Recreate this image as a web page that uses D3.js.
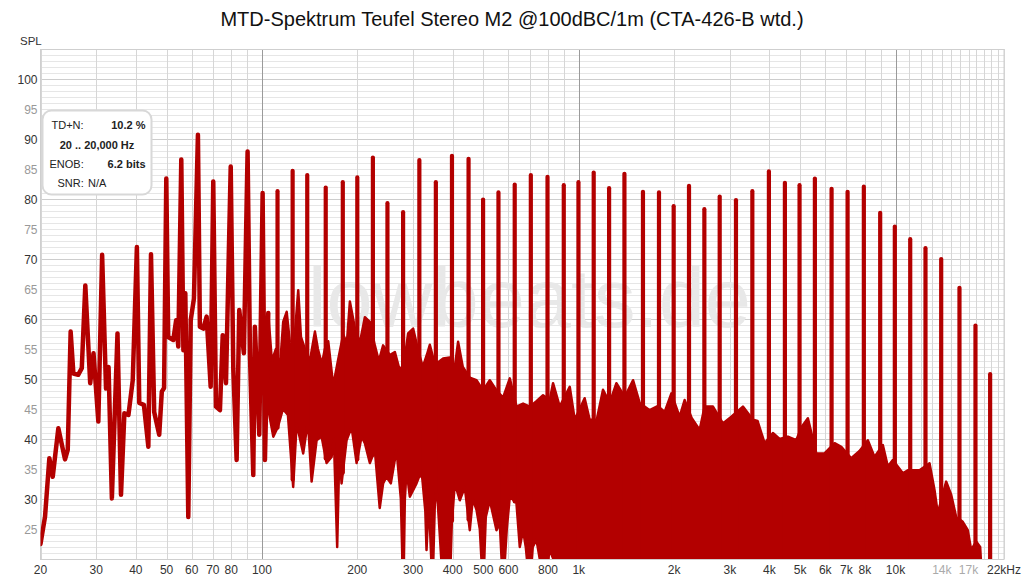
<!DOCTYPE html>
<html><head><meta charset="utf-8">
<script src="https://cdn.jsdelivr.net/npm/d3@7"></script>
<style>
html,body{margin:0;padding:0;background:#fff;}
svg{display:block;font-family:"Liberation Sans",Arial,Helvetica,sans-serif;}
</style></head><body>
<svg id="chart" width="1024" height="580"></svg>
<script>
// ---------- data ----------
const chartTitle = "MTD-Spektrum Teufel Stereo M2 @100dBC/1m (CTA-426-B wtd.)";
const yAxisTitle = "SPL";
const watermark = "lowbeats.de";

// low-frequency trace (Hz, dB SPL)
const traceHz = [20.0, 20.67, 21.33, 21.86, 22.77, 23.9, 24.38, 24.9, 25.4, 26.3, 27.0, 27.7, 28.7, 29.4, 30.45, 31.3, 32.2, 32.8, 33.6, 35.0, 35.9, 36.8, 37.9, 39.1, 40.3, 41.0, 42.4, 43.8, 44.65, 45.7, 47.4, 48.3, 49.1, 49.9, 50.6, 52.5, 53.6, 54.45, 55.65, 56.5, 57.3, 58.55, 59.6, 61.0, 62.8, 63.7, 65.3, 66.9, 68.9, 70.2, 71.6, 73.7, 75.2, 77.0, 79.7, 81.2, 83.2, 84.8, 87.7, 90.1, 91.7, 93.9, 95.0, 98.1, 100.5, 102.2, 104.7];
const traceDb = [22.5, 27.05, 36.8, 33.7, 41.8, 36.6, 38.2, 57.9, 50.9, 50.7, 51.8, 65.6, 49.3, 54.3, 42.9, 70.7, 48.4, 52, 30.1, 57.6, 30.7, 44.3, 44, 49.8, 72, 46, 45.7, 38.7, 70.8, 44.5, 40.7, 47.9, 48.5, 83.4, 57, 56.5, 59.8, 55.4, 86.6, 54.8, 64.3, 27, 59.8, 63.4, 90.7, 58.7, 58.4, 60.4, 48.7, 82.9, 45.4, 44.8, 57.3, 49.3, 85.4, 51.8, 36.5, 61.5, 54.3, 87.9, 53.7, 34, 58.7, 40.7, 81, 36.5, 61];

// multitone lines above 100 Hz (Hz, peak dB)
const toneHz = [112, 125, 139, 159, 180, 200, 224, 249, 279, 314, 354, 398, 449, 499, 558, 628, 706, 797, 897, 998, 1115, 1247, 1394, 1595, 1792, 1994, 2229, 2492, 2786, 3136, 3532, 3984, 4475, 4978, 5565, 6283, 7058, 7943, 8945, 9949, 11127, 12434, 13937, 15917, 17880, 19890];
const toneDb = [81.3, 84.7, 84.0, 81.9, 82.8, 83.6, 86.9, 79.3, 77.8, 86.5, 82.8, 87.2, 86.7, 79.9, 81.1, 82.4, 84.0, 83.7, 82.3, 82.8, 84.4, 81.8, 84.2, 81.2, 81.1, 78.8, 82.2, 78.3, 80.4, 79.8, 81.3, 84.6, 82.7, 82.3, 83.4, 81.7, 81.2, 82.05, 77.7, 75.4, 73.3, 71.8, 70.0, 65.2, 58.9, 50.8];

// distortion + noise band: upper edge
const noiseTopHz = [104.7, 107.5, 110.7, 114.0, 116.7, 119.7, 122.6, 125.5, 130.2, 132.8, 136.7, 141.7, 147.0, 150.2, 154.6, 158.0, 161.9, 167.9, 173.7, 180.5, 185.4, 189.5, 196.5, 203.7, 211.3, 219.1, 227.2, 233.9, 241.3, 253.4, 262.8, 270.5, 279.1, 289.4, 300.1, 310.6, 322.0, 331.5, 338.8, 351.3, 364.3, 373.2, 391.8, 406.3, 416.1, 430.6, 453.0, 475.7, 499.0, 523.9, 550.1, 577.0, 605.9, 636.0, 667.3, 700.6, 735.6, 771.7, 810.0, 829.7, 871.1, 936.7, 971.4, 1044, 1083, 1140, 1193, 1253, 1315, 1397, 1484, 1558, 1675, 1775, 1868, 1961, 2082, 2159, 2272, 2408, 2497, 2653, 2852, 3032, 3298, 3547, 3670, 3861, 4101, 4306, 4573, 4861, 5052, 5289, 5621, 5971, 6421, 6741, 7249, 7699, 8177, 8585, 9119, 9456, 9806, 10545, 10934, 11905, 12801, 13275, 13596, 13968, 14452, 14987, 15541, 16304, 16908, 17329, 17971, 18500, 18676];
const noiseTopDb = [61, 53, 55, 52, 59.5, 61.2, 56, 54, 64.8, 57, 55, 53, 57.9, 55, 52.5, 55, 56.3, 48.9, 53, 57.4, 56, 62.9, 58.5, 56, 60.3, 59.5, 55.6, 53, 55.6, 54, 54.5, 52, 51.6, 57.6, 58.4, 55, 52, 54, 55.7, 52.5, 53, 53.4, 53.6, 52, 56.2, 52, 50.2, 49.8, 48.1, 49.8, 48.1, 46.9, 50.1, 45.4, 45.9, 45.4, 46.3, 47.3, 46.5, 49.3, 45.4, 48.7, 43.2, 46.8, 43.2, 43.2, 48.2, 46, 49.3, 47, 49.8, 46, 44.8, 45.5, 44.5, 47.6, 43.7, 46.5, 43.5, 41.5, 45.4, 45.4, 42.6, 43.7, 45.4, 43.2, 43, 39.3, 41, 40, 40.4, 39.8, 42, 43.45, 37.6, 37.6, 39.3, 38.7, 36.8, 38, 39.8, 37, 39, 35.4, 36.5, 34.3, 34.8, 34.8, 35.95, 31.5, 27.6, 30, 32.9, 30.7, 27, 26.2, 24.8, 21.5, 22.9, 22, 18];

// distortion + noise band: lower edge (values under 20 run below the plot)
const noiseBotHz = [104.7, 108.6, 112.3, 116.5, 120.8, 125.5, 128.7, 135.0, 139.7, 143.5, 148.8, 154.3, 160.0, 165.9, 168.7, 172.8, 175.6, 178.4, 185.0, 191.9, 199.0, 206.3, 211.3, 219.1, 227.2, 235.4, 241.3, 247.3, 255.2, 266.0, 274.5, 279.1, 282.6, 286.1, 293.0, 307.6, 319.0, 327.9, 330.8, 336.3, 345.5, 351.3, 355.7, 364.3, 373.2, 383.3, 391.8, 397.5, 406.3, 421.3, 436.9, 453.0, 463.0, 475.7, 487.2, 499.0, 508.9, 523.9, 550.1, 563.4, 577.0, 592.8, 605.9, 636.0, 651.5, 667.3, 680.6, 700.6, 716.0, 735.6, 753.4, 771.7, 810.0, 846.1, 871.1, 18676];
const noiseBotDb = [45, 40.4, 42, 45, 44, 32, 42.6, 37.6, 43, 32.9, 39.8, 40.4, 36, 37, 40, 22, 38, 32.6, 39.8, 42, 36, 40.4, 39.3, 36, 38.2, 28.5, 32.6, 33.7, 32.6, 38.2, 30, 15, 30, 34.8, 30.4, 32.6, 34.8, 28, 21.5, 30, 15, 29, 32.6, 24, 15, 18, 15, 26, 32.6, 29.8, 32, 24.8, 30, 28.2, 25, 15, 27, 29.8, 24.8, 26, 15, 25, 30.4, 29.3, 22, 24.8, 22, 15, 22, 23.2, 20, 15, 21.5, 19, 15, 15];

// axes
const xTickHz = [20, 30, 40, 50, 60, 70, 80, 100, 200, 300, 400, 500, 600, 800, 1000, 2000, 3000, 4000, 5000, 6000, 7000, 8000, 10000, 14000, 17000, 22000];
const xTickLabels = ["20", "30", "40", "50", "60", "70", "80", "100", "200", "300", "400", "500", "600", "800", "1k", "2k", "3k", "4k", "5k", "6k", "7k", "8k", "10k", "14k", "17k", "22kHz"];
const xTickMuted = ["14k", "17k"];
const yTicks = [25, 30, 35, 40, 45, 50, 55, 60, 65, 70, 75, 80, 85, 90, 95, 100];

// legend
const legendRows = [
  {label: "TD+N:", value: "10.2 %"},
  {center: "20 .. 20,000 Hz"},
  {label: "ENOB:", value: "6.2 bits"},
  {label: "SNR:", plain: "N/A"}
];

// ---------- drawing ----------
const m = {left: 40.5, right: 1004, top: 49, bottom: 559};
const svg = d3.select("#chart");
const red = "#b30000";

const x = d3.scaleLog().domain([20, 22000]).range([m.left, m.right]);
const y = d3.scaleLinear().domain([20, 105]).range([m.bottom, m.top]);

// grid
const grid = svg.append("g");
d3.range(20, 106).forEach(v => {
  grid.append("line")
    .attr("x1", m.left).attr("x2", m.right)
    .attr("y1", Math.round(y(v)) + 0.5).attr("y2", Math.round(y(v)) + 0.5)
    .attr("stroke", v % 10 === 0 ? "#cdcdcd" : "#e6e6e6").attr("stroke-width", 1);
});
const vGrid = [];
[10, 100, 1000].forEach(d => { for (let k = 1; k <= 9; k++) { const f = k * d; if (f >= 20 && f <= 22000) vGrid.push(f); } });
for (let f = 10000; f <= 22000; f += 1000) vGrid.push(f);
vGrid.forEach(f => {
  const dec = [100, 1000, 10000].includes(f);
  grid.append("line")
    .attr("x1", Math.round(x(f)) + 0.5).attr("x2", Math.round(x(f)) + 0.5)
    .attr("y1", m.top).attr("y2", m.bottom)
    .attr("stroke", dec ? "#9a9a9a" : "#d6d6d6").attr("stroke-width", 1);
});
grid.append("rect").attr("x", m.left).attr("y", m.top + 0.5)
  .attr("width", m.right - m.left).attr("height", m.bottom - m.top)
  .attr("fill", "none").attr("stroke", "#cfcfcf");

// watermark
svg.append("text").attr("x", 308).attr("y", 327)
  .attr("font-size", 83).attr("fill", "#e8e8e8")
  .text(watermark);

// data
svg.append("clipPath").attr("id", "plotclip").append("rect")
  .attr("x", m.left).attr("y", m.top).attr("width", m.right - m.left).attr("height", m.bottom - m.top);
const dataG = svg.append("g").attr("clip-path", "url(#plotclip)");

const poly = d3.line().x(d => x(d[0])).y(d => y(d[1]));

// noise band polygon
const topPts = noiseTopHz.map((f, i) => [f, noiseTopDb[i]]);
const botPts = noiseBotHz.map((f, i) => [f, noiseBotDb[i]]).reverse();
dataG.append("path")
  .attr("d", poly(topPts.concat(botPts)) + "Z")
  .attr("fill", red).attr("stroke", red).attr("stroke-width", 2.5)
  .attr("stroke-linejoin", "round");

// tone spikes
const bis = d3.bisector(d => d).left;
function botAt(f) {
  if (f < noiseBotHz[0] || f > noiseBotHz[noiseBotHz.length - 1]) return 15;
  const i = bis(noiseBotHz, f);
  if (i <= 0) return noiseBotDb[0];
  const f0 = noiseBotHz[i - 1], f1 = noiseBotHz[i];
  const t = (Math.log(f) - Math.log(f0)) / (Math.log(f1) - Math.log(f0));
  return noiseBotDb[i - 1] + t * (noiseBotDb[i] - noiseBotDb[i - 1]);
}
toneHz.forEach((f, i) => {
  dataG.append("path")
    .attr("d", poly([[f, botAt(f)], [f, toneDb[i]]]))
    .attr("stroke", red).attr("stroke-width", 4.2).attr("fill", "none")
    .attr("stroke-linecap", "round");
});

// low-frequency trace
dataG.append("path")
  .attr("d", poly(traceHz.map((f, i) => [f, traceDb[i]])))
  .attr("fill", "none").attr("stroke", red).attr("stroke-width", 4.5)
  .attr("stroke-linejoin", "round").attr("stroke-linecap", "round");

// y axis labels
svg.append("g").selectAll("text").data(yTicks).join("text")
  .attr("x", 37.5).attr("y", d => y(d) + 4.5)
  .attr("text-anchor", "end").attr("font-size", 12)
  .attr("fill", d => d % 10 === 0 ? "#333" : "#999")
  .text(d => d);
svg.append("text").attr("x", 20).attr("y", 45).attr("font-size", 11.5).attr("fill", "#333").text(yAxisTitle);

// x axis labels
svg.append("g").selectAll("text").data(xTickHz).join("text")
  .attr("x", d => x(d)).attr("y", 574)
  .attr("text-anchor", "middle").attr("font-size", 12)
  .attr("fill", (d, i) => xTickMuted.includes(xTickLabels[i]) ? "#aaa" : "#333")
  .text((d, i) => xTickLabels[i]);

// title
svg.append("text").attr("x", 512).attr("y", 26).attr("text-anchor", "middle")
  .attr("font-size", 20).attr("fill", "#111").text(chartTitle);

// legend
const lg = svg.append("g");
lg.append("rect").attr("x", 42.5).attr("y", 110.5).attr("width", 109).attr("height", 84)
  .attr("rx", 9).attr("fill", "#fff").attr("stroke", "#d8d8d8").attr("stroke-width", 2);
const rowY = [129, 148.5, 167.5, 187];
legendRows.forEach((r, i) => {
  if (r.center) {
    lg.append("text").attr("x", 97).attr("y", rowY[i]).attr("text-anchor", "middle")
      .attr("font-size", 11).attr("font-weight", "bold").attr("fill", "#222").text(r.center);
  } else if (r.plain) {
    lg.append("text").attr("x", 57.5).attr("y", rowY[i]).attr("font-size", 11).attr("fill", "#222").text(r.label);
    lg.append("text").attr("x", 88).attr("y", rowY[i]).attr("font-size", 11).attr("fill", "#222").text(r.plain);
  } else {
    lg.append("text").attr("x", i === 0 ? 51.5 : 49.5).attr("y", rowY[i]).attr("font-size", 11).attr("fill", "#222").text(r.label);
    lg.append("text").attr("x", 145.5).attr("y", rowY[i]).attr("text-anchor", "end")
      .attr("font-size", 11).attr("font-weight", "bold").attr("fill", "#222").text(r.value);
  }
});
</script>
</body></html>
